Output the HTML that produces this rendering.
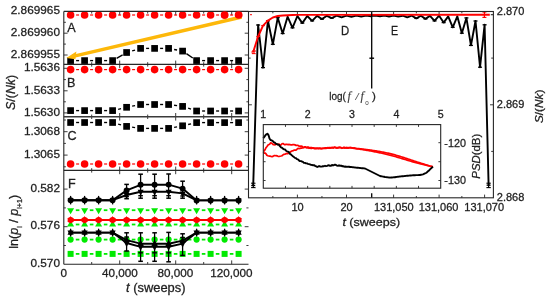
<!DOCTYPE html>
<html><head><meta charset="utf-8"><title>figure</title>
<style>
html,body{margin:0;padding:0;background:#fff;}
body{width:550px;height:298px;overflow:hidden;}
svg{display:block;will-change:transform;filter:blur(0.3px);}
text{stroke:#1e1e1e;stroke-width:0.28px;paint-order:stroke;}
</style></head>
<body>
<svg width="550" height="298" viewBox="0 0 550 298" shape-rendering="auto">
<rect width="550" height="298" fill="#fff"/>
<line x1="91.7" y1="11.4" x2="91.7" y2="13.6" stroke="#262626" stroke-width="0.9" />
<line x1="91.7" y1="64.4" x2="91.7" y2="62.2" stroke="#262626" stroke-width="0.9" />
<line x1="119.7" y1="11.4" x2="119.7" y2="15.2" stroke="#262626" stroke-width="0.9" />
<line x1="119.7" y1="64.4" x2="119.7" y2="60.6" stroke="#262626" stroke-width="0.9" />
<line x1="147.7" y1="11.4" x2="147.7" y2="13.6" stroke="#262626" stroke-width="0.9" />
<line x1="147.7" y1="64.4" x2="147.7" y2="62.2" stroke="#262626" stroke-width="0.9" />
<line x1="175.7" y1="11.4" x2="175.7" y2="15.2" stroke="#262626" stroke-width="0.9" />
<line x1="175.7" y1="64.4" x2="175.7" y2="60.6" stroke="#262626" stroke-width="0.9" />
<line x1="203.7" y1="11.4" x2="203.7" y2="13.6" stroke="#262626" stroke-width="0.9" />
<line x1="203.7" y1="64.4" x2="203.7" y2="62.2" stroke="#262626" stroke-width="0.9" />
<line x1="231.7" y1="11.4" x2="231.7" y2="15.2" stroke="#262626" stroke-width="0.9" />
<line x1="231.7" y1="64.4" x2="231.7" y2="60.6" stroke="#262626" stroke-width="0.9" />
<line x1="63.8" y1="22.3" x2="65.9" y2="22.3" stroke="#262626" stroke-width="0.9" />
<line x1="248.5" y1="22.3" x2="246.4" y2="22.3" stroke="#262626" stroke-width="0.9" />
<line x1="63.8" y1="33.2" x2="67.6" y2="33.2" stroke="#262626" stroke-width="0.9" />
<line x1="248.5" y1="33.2" x2="244.7" y2="33.2" stroke="#262626" stroke-width="0.9" />
<line x1="63.8" y1="44.1" x2="65.9" y2="44.1" stroke="#262626" stroke-width="0.9" />
<line x1="248.5" y1="44.1" x2="246.4" y2="44.1" stroke="#262626" stroke-width="0.9" />
<line x1="63.8" y1="55" x2="67.6" y2="55" stroke="#262626" stroke-width="0.9" />
<line x1="248.5" y1="55" x2="244.7" y2="55" stroke="#262626" stroke-width="0.9" />
<line x1="76.1" y1="15" x2="79.1" y2="15" stroke="#ff0000" stroke-width="1.2" />
<line x1="90.1" y1="15" x2="93.1" y2="15" stroke="#ff0000" stroke-width="1.2" />
<line x1="104.1" y1="15" x2="107.1" y2="15" stroke="#ff0000" stroke-width="1.2" />
<line x1="118.1" y1="15" x2="121.1" y2="15" stroke="#ff0000" stroke-width="1.2" />
<line x1="132.1" y1="15" x2="135.1" y2="15" stroke="#ff0000" stroke-width="1.2" />
<line x1="146.1" y1="15" x2="149.1" y2="15" stroke="#ff0000" stroke-width="1.2" />
<line x1="160.1" y1="15" x2="163.1" y2="15" stroke="#ff0000" stroke-width="1.2" />
<line x1="174.1" y1="15" x2="177.1" y2="15" stroke="#ff0000" stroke-width="1.2" />
<line x1="188.1" y1="15" x2="191.1" y2="15" stroke="#ff0000" stroke-width="1.2" />
<line x1="202.1" y1="15" x2="205.1" y2="15" stroke="#ff0000" stroke-width="1.2" />
<line x1="216.1" y1="15" x2="219.1" y2="15" stroke="#ff0000" stroke-width="1.2" />
<line x1="230.1" y1="15" x2="233.1" y2="15" stroke="#ff0000" stroke-width="1.2" />
<circle cx="70.6" cy="15" r="3.8" fill="#ff0000"/>
<circle cx="84.6" cy="15" r="3.8" fill="#ff0000"/>
<circle cx="98.6" cy="15" r="3.8" fill="#ff0000"/>
<circle cx="112.6" cy="15" r="3.8" fill="#ff0000"/>
<circle cx="126.6" cy="15" r="3.8" fill="#ff0000"/>
<circle cx="140.6" cy="15" r="3.8" fill="#ff0000"/>
<circle cx="154.6" cy="15" r="3.8" fill="#ff0000"/>
<circle cx="168.6" cy="15" r="3.8" fill="#ff0000"/>
<circle cx="182.6" cy="15" r="3.8" fill="#ff0000"/>
<circle cx="196.6" cy="15" r="3.8" fill="#ff0000"/>
<circle cx="210.6" cy="15" r="3.8" fill="#ff0000"/>
<circle cx="224.6" cy="15" r="3.8" fill="#ff0000"/>
<circle cx="238.6" cy="15" r="3.8" fill="#ff0000"/>
<line x1="76.1" y1="60.6" x2="79.1" y2="60.6" stroke="#000" stroke-width="1.35" />
<line x1="90.1" y1="60.6" x2="93.1" y2="60.6" stroke="#000" stroke-width="1.35" />
<line x1="104.1" y1="60.6" x2="107.1" y2="60.6" stroke="#000" stroke-width="1.35" />
<line x1="116.58" y1="58.3" x2="122.62" y2="54.8" stroke="#000" stroke-width="1.35" />
<line x1="132.16" y1="50.87" x2="135.04" y2="50.03" stroke="#000" stroke-width="1.35" />
<line x1="146.1" y1="48.4" x2="149.1" y2="48.4" stroke="#000" stroke-width="1.35" />
<line x1="160.1" y1="48.4" x2="163.1" y2="48.4" stroke="#000" stroke-width="1.35" />
<line x1="174.13" y1="49.47" x2="177.07" y2="50.03" stroke="#000" stroke-width="1.35" />
<line x1="186.41" y1="53.68" x2="192.79" y2="58.02" stroke="#000" stroke-width="1.35" />
<line x1="202.1" y1="60.6" x2="205.1" y2="60.6" stroke="#000" stroke-width="1.35" />
<line x1="216.1" y1="60.6" x2="219.1" y2="60.6" stroke="#000" stroke-width="1.35" />
<line x1="230.1" y1="60.6" x2="233.1" y2="60.6" stroke="#000" stroke-width="1.35" />
<rect x="67.25" y="57.25" width="6.7" height="6.7" fill="#000"/>
<rect x="81.25" y="57.25" width="6.7" height="6.7" fill="#000"/>
<rect x="95.25" y="57.25" width="6.7" height="6.7" fill="#000"/>
<rect x="109.25" y="57.25" width="6.7" height="6.7" fill="#000"/>
<rect x="123.25" y="49.15" width="6.7" height="6.7" fill="#000"/>
<rect x="137.25" y="45.05" width="6.7" height="6.7" fill="#000"/>
<rect x="151.25" y="45.05" width="6.7" height="6.7" fill="#000"/>
<rect x="165.25" y="45.05" width="6.7" height="6.7" fill="#000"/>
<rect x="179.25" y="47.75" width="6.7" height="6.7" fill="#000"/>
<rect x="193.25" y="57.25" width="6.7" height="6.7" fill="#000"/>
<rect x="207.25" y="57.25" width="6.7" height="6.7" fill="#000"/>
<rect x="221.25" y="57.25" width="6.7" height="6.7" fill="#000"/>
<rect x="235.25" y="57.25" width="6.7" height="6.7" fill="#000"/>
<text x="67.3" y="32.2" font-size="12.6" text-anchor="start" fill="#1e1e1e" font-family='"Liberation Sans", sans-serif' >A</text>
<line x1="91.7" y1="64.4" x2="91.7" y2="66.6" stroke="#262626" stroke-width="0.9" />
<line x1="91.7" y1="116.8" x2="91.7" y2="114.6" stroke="#262626" stroke-width="0.9" />
<line x1="119.7" y1="64.4" x2="119.7" y2="68.2" stroke="#262626" stroke-width="0.9" />
<line x1="119.7" y1="116.8" x2="119.7" y2="113" stroke="#262626" stroke-width="0.9" />
<line x1="147.7" y1="64.4" x2="147.7" y2="66.6" stroke="#262626" stroke-width="0.9" />
<line x1="147.7" y1="116.8" x2="147.7" y2="114.6" stroke="#262626" stroke-width="0.9" />
<line x1="175.7" y1="64.4" x2="175.7" y2="68.2" stroke="#262626" stroke-width="0.9" />
<line x1="175.7" y1="116.8" x2="175.7" y2="113" stroke="#262626" stroke-width="0.9" />
<line x1="203.7" y1="64.4" x2="203.7" y2="66.6" stroke="#262626" stroke-width="0.9" />
<line x1="203.7" y1="116.8" x2="203.7" y2="114.6" stroke="#262626" stroke-width="0.9" />
<line x1="231.7" y1="64.4" x2="231.7" y2="68.2" stroke="#262626" stroke-width="0.9" />
<line x1="231.7" y1="116.8" x2="231.7" y2="113" stroke="#262626" stroke-width="0.9" />
<line x1="63.8" y1="68.3" x2="67.6" y2="68.3" stroke="#262626" stroke-width="0.9" />
<line x1="248.5" y1="68.3" x2="244.7" y2="68.3" stroke="#262626" stroke-width="0.9" />
<line x1="63.8" y1="79.6" x2="65.9" y2="79.6" stroke="#262626" stroke-width="0.9" />
<line x1="248.5" y1="79.6" x2="246.4" y2="79.6" stroke="#262626" stroke-width="0.9" />
<line x1="63.8" y1="90.8" x2="67.6" y2="90.8" stroke="#262626" stroke-width="0.9" />
<line x1="248.5" y1="90.8" x2="244.7" y2="90.8" stroke="#262626" stroke-width="0.9" />
<line x1="63.8" y1="101.8" x2="65.9" y2="101.8" stroke="#262626" stroke-width="0.9" />
<line x1="248.5" y1="101.8" x2="246.4" y2="101.8" stroke="#262626" stroke-width="0.9" />
<line x1="63.8" y1="112.9" x2="67.6" y2="112.9" stroke="#262626" stroke-width="0.9" />
<line x1="248.5" y1="112.9" x2="244.7" y2="112.9" stroke="#262626" stroke-width="0.9" />
<line x1="76.1" y1="69.6" x2="79.1" y2="69.6" stroke="#ff0000" stroke-width="1.2" />
<line x1="90.1" y1="69.6" x2="93.1" y2="69.6" stroke="#ff0000" stroke-width="1.2" />
<line x1="104.1" y1="69.6" x2="107.1" y2="69.6" stroke="#ff0000" stroke-width="1.2" />
<line x1="118.1" y1="69.6" x2="121.1" y2="69.6" stroke="#ff0000" stroke-width="1.2" />
<line x1="132.1" y1="69.6" x2="135.1" y2="69.6" stroke="#ff0000" stroke-width="1.2" />
<line x1="146.1" y1="69.6" x2="149.1" y2="69.6" stroke="#ff0000" stroke-width="1.2" />
<line x1="160.1" y1="69.6" x2="163.1" y2="69.6" stroke="#ff0000" stroke-width="1.2" />
<line x1="174.1" y1="69.6" x2="177.1" y2="69.6" stroke="#ff0000" stroke-width="1.2" />
<line x1="188.1" y1="69.6" x2="191.1" y2="69.6" stroke="#ff0000" stroke-width="1.2" />
<line x1="202.1" y1="69.6" x2="205.1" y2="69.6" stroke="#ff0000" stroke-width="1.2" />
<line x1="216.1" y1="69.6" x2="219.1" y2="69.6" stroke="#ff0000" stroke-width="1.2" />
<line x1="230.1" y1="69.6" x2="233.1" y2="69.6" stroke="#ff0000" stroke-width="1.2" />
<circle cx="70.6" cy="69.6" r="3.8" fill="#ff0000"/>
<circle cx="84.6" cy="69.6" r="3.8" fill="#ff0000"/>
<circle cx="98.6" cy="69.6" r="3.8" fill="#ff0000"/>
<circle cx="112.6" cy="69.6" r="3.8" fill="#ff0000"/>
<circle cx="126.6" cy="69.6" r="3.8" fill="#ff0000"/>
<circle cx="140.6" cy="69.6" r="3.8" fill="#ff0000"/>
<circle cx="154.6" cy="69.6" r="3.8" fill="#ff0000"/>
<circle cx="168.6" cy="69.6" r="3.8" fill="#ff0000"/>
<circle cx="182.6" cy="69.6" r="3.8" fill="#ff0000"/>
<circle cx="196.6" cy="69.6" r="3.8" fill="#ff0000"/>
<circle cx="210.6" cy="69.6" r="3.8" fill="#ff0000"/>
<circle cx="224.6" cy="69.6" r="3.8" fill="#ff0000"/>
<circle cx="238.6" cy="69.6" r="3.8" fill="#ff0000"/>
<line x1="76.1" y1="110.6" x2="79.1" y2="110.6" stroke="#000" stroke-width="1.35" />
<line x1="90.1" y1="110.6" x2="93.1" y2="110.6" stroke="#000" stroke-width="1.35" />
<line x1="104.1" y1="110.6" x2="107.1" y2="110.6" stroke="#000" stroke-width="1.35" />
<line x1="118.14" y1="109.29" x2="121.06" y2="108.61" stroke="#000" stroke-width="1.35" />
<line x1="132.13" y1="106.19" x2="135.07" y2="105.61" stroke="#000" stroke-width="1.35" />
<line x1="146.1" y1="104.5" x2="149.1" y2="104.5" stroke="#000" stroke-width="1.35" />
<line x1="160.1" y1="104.5" x2="163.1" y2="104.5" stroke="#000" stroke-width="1.35" />
<line x1="174.11" y1="105.25" x2="177.09" y2="105.65" stroke="#000" stroke-width="1.35" />
<line x1="188.17" y1="108.23" x2="191.03" y2="109.17" stroke="#000" stroke-width="1.35" />
<line x1="202.1" y1="111" x2="205.1" y2="111" stroke="#000" stroke-width="1.35" />
<line x1="216.1" y1="111" x2="219.1" y2="111" stroke="#000" stroke-width="1.35" />
<line x1="230.1" y1="111" x2="233.1" y2="111" stroke="#000" stroke-width="1.35" />
<rect x="67.25" y="107.25" width="6.7" height="6.7" fill="#000"/>
<rect x="81.25" y="107.25" width="6.7" height="6.7" fill="#000"/>
<rect x="95.25" y="107.25" width="6.7" height="6.7" fill="#000"/>
<rect x="109.25" y="107.25" width="6.7" height="6.7" fill="#000"/>
<rect x="123.25" y="103.95" width="6.7" height="6.7" fill="#000"/>
<rect x="137.25" y="101.15" width="6.7" height="6.7" fill="#000"/>
<rect x="151.25" y="101.15" width="6.7" height="6.7" fill="#000"/>
<rect x="165.25" y="101.15" width="6.7" height="6.7" fill="#000"/>
<rect x="179.25" y="103.05" width="6.7" height="6.7" fill="#000"/>
<rect x="193.25" y="107.65" width="6.7" height="6.7" fill="#000"/>
<rect x="207.25" y="107.65" width="6.7" height="6.7" fill="#000"/>
<rect x="221.25" y="107.65" width="6.7" height="6.7" fill="#000"/>
<rect x="235.25" y="107.65" width="6.7" height="6.7" fill="#000"/>
<text x="67" y="86.6" font-size="12.6" text-anchor="start" fill="#1e1e1e" font-family='"Liberation Sans", sans-serif' >B</text>
<line x1="91.7" y1="116.8" x2="91.7" y2="119" stroke="#262626" stroke-width="0.9" />
<line x1="91.7" y1="170.4" x2="91.7" y2="168.2" stroke="#262626" stroke-width="0.9" />
<line x1="119.7" y1="116.8" x2="119.7" y2="120.6" stroke="#262626" stroke-width="0.9" />
<line x1="119.7" y1="170.4" x2="119.7" y2="166.6" stroke="#262626" stroke-width="0.9" />
<line x1="147.7" y1="116.8" x2="147.7" y2="119" stroke="#262626" stroke-width="0.9" />
<line x1="147.7" y1="170.4" x2="147.7" y2="168.2" stroke="#262626" stroke-width="0.9" />
<line x1="175.7" y1="116.8" x2="175.7" y2="120.6" stroke="#262626" stroke-width="0.9" />
<line x1="175.7" y1="170.4" x2="175.7" y2="166.6" stroke="#262626" stroke-width="0.9" />
<line x1="203.7" y1="116.8" x2="203.7" y2="119" stroke="#262626" stroke-width="0.9" />
<line x1="203.7" y1="170.4" x2="203.7" y2="168.2" stroke="#262626" stroke-width="0.9" />
<line x1="231.7" y1="116.8" x2="231.7" y2="120.6" stroke="#262626" stroke-width="0.9" />
<line x1="231.7" y1="170.4" x2="231.7" y2="166.6" stroke="#262626" stroke-width="0.9" />
<line x1="63.8" y1="120" x2="65.9" y2="120" stroke="#262626" stroke-width="0.9" />
<line x1="248.5" y1="120" x2="246.4" y2="120" stroke="#262626" stroke-width="0.9" />
<line x1="63.8" y1="131.7" x2="67.6" y2="131.7" stroke="#262626" stroke-width="0.9" />
<line x1="248.5" y1="131.7" x2="244.7" y2="131.7" stroke="#262626" stroke-width="0.9" />
<line x1="63.8" y1="143.4" x2="65.9" y2="143.4" stroke="#262626" stroke-width="0.9" />
<line x1="248.5" y1="143.4" x2="246.4" y2="143.4" stroke="#262626" stroke-width="0.9" />
<line x1="63.8" y1="155.1" x2="67.6" y2="155.1" stroke="#262626" stroke-width="0.9" />
<line x1="248.5" y1="155.1" x2="244.7" y2="155.1" stroke="#262626" stroke-width="0.9" />
<line x1="63.8" y1="166.8" x2="65.9" y2="166.8" stroke="#262626" stroke-width="0.9" />
<line x1="248.5" y1="166.8" x2="246.4" y2="166.8" stroke="#262626" stroke-width="0.9" />
<line x1="76.1" y1="122.5" x2="79.1" y2="122.5" stroke="#000" stroke-width="1.35" />
<line x1="90.1" y1="122.5" x2="93.1" y2="122.5" stroke="#000" stroke-width="1.35" />
<line x1="104.1" y1="122.5" x2="107.1" y2="122.5" stroke="#000" stroke-width="1.35" />
<line x1="118.16" y1="124.05" x2="121.04" y2="124.85" stroke="#000" stroke-width="1.35" />
<line x1="132.12" y1="127.19" x2="135.08" y2="127.61" stroke="#000" stroke-width="1.35" />
<line x1="146.1" y1="128.4" x2="149.1" y2="128.4" stroke="#000" stroke-width="1.35" />
<line x1="160.1" y1="128.4" x2="163.1" y2="128.4" stroke="#000" stroke-width="1.35" />
<line x1="174.13" y1="127.37" x2="177.07" y2="126.83" stroke="#000" stroke-width="1.35" />
<line x1="188.14" y1="124.53" x2="191.06" y2="123.87" stroke="#000" stroke-width="1.35" />
<line x1="202.1" y1="122.6" x2="205.1" y2="122.6" stroke="#000" stroke-width="1.35" />
<line x1="216.1" y1="122.6" x2="219.1" y2="122.6" stroke="#000" stroke-width="1.35" />
<line x1="230.1" y1="122.6" x2="233.1" y2="122.6" stroke="#000" stroke-width="1.35" />
<rect x="67.25" y="119.15" width="6.7" height="6.7" fill="#000"/>
<rect x="81.25" y="119.15" width="6.7" height="6.7" fill="#000"/>
<rect x="95.25" y="119.15" width="6.7" height="6.7" fill="#000"/>
<rect x="109.25" y="119.15" width="6.7" height="6.7" fill="#000"/>
<rect x="123.25" y="123.05" width="6.7" height="6.7" fill="#000"/>
<rect x="137.25" y="125.05" width="6.7" height="6.7" fill="#000"/>
<rect x="151.25" y="125.05" width="6.7" height="6.7" fill="#000"/>
<rect x="165.25" y="125.05" width="6.7" height="6.7" fill="#000"/>
<rect x="179.25" y="122.45" width="6.7" height="6.7" fill="#000"/>
<rect x="193.25" y="119.25" width="6.7" height="6.7" fill="#000"/>
<rect x="207.25" y="119.25" width="6.7" height="6.7" fill="#000"/>
<rect x="221.25" y="119.25" width="6.7" height="6.7" fill="#000"/>
<rect x="235.25" y="119.25" width="6.7" height="6.7" fill="#000"/>
<line x1="76.1" y1="164" x2="79.1" y2="164" stroke="#ff0000" stroke-width="1.2" />
<line x1="90.1" y1="164" x2="93.1" y2="164" stroke="#ff0000" stroke-width="1.2" />
<line x1="104.1" y1="164" x2="107.1" y2="164" stroke="#ff0000" stroke-width="1.2" />
<line x1="118.1" y1="164" x2="121.1" y2="164" stroke="#ff0000" stroke-width="1.2" />
<line x1="132.1" y1="164" x2="135.1" y2="164" stroke="#ff0000" stroke-width="1.2" />
<line x1="146.1" y1="164" x2="149.1" y2="164" stroke="#ff0000" stroke-width="1.2" />
<line x1="160.1" y1="164" x2="163.1" y2="164" stroke="#ff0000" stroke-width="1.2" />
<line x1="174.1" y1="164" x2="177.1" y2="164" stroke="#ff0000" stroke-width="1.2" />
<line x1="188.1" y1="164" x2="191.1" y2="164" stroke="#ff0000" stroke-width="1.2" />
<line x1="202.1" y1="164" x2="205.1" y2="164" stroke="#ff0000" stroke-width="1.2" />
<line x1="216.1" y1="164" x2="219.1" y2="164" stroke="#ff0000" stroke-width="1.2" />
<line x1="230.1" y1="164" x2="233.1" y2="164" stroke="#ff0000" stroke-width="1.2" />
<circle cx="70.6" cy="164" r="3.8" fill="#ff0000"/>
<circle cx="84.6" cy="164" r="3.8" fill="#ff0000"/>
<circle cx="98.6" cy="164" r="3.8" fill="#ff0000"/>
<circle cx="112.6" cy="164" r="3.8" fill="#ff0000"/>
<circle cx="126.6" cy="164" r="3.8" fill="#ff0000"/>
<circle cx="140.6" cy="164" r="3.8" fill="#ff0000"/>
<circle cx="154.6" cy="164" r="3.8" fill="#ff0000"/>
<circle cx="168.6" cy="164" r="3.8" fill="#ff0000"/>
<circle cx="182.6" cy="164" r="3.8" fill="#ff0000"/>
<circle cx="196.6" cy="164" r="3.8" fill="#ff0000"/>
<circle cx="210.6" cy="164" r="3.8" fill="#ff0000"/>
<circle cx="224.6" cy="164" r="3.8" fill="#ff0000"/>
<circle cx="238.6" cy="164" r="3.8" fill="#ff0000"/>
<text x="67.6" y="139.6" font-size="12.6" text-anchor="start" fill="#1e1e1e" font-family='"Liberation Sans", sans-serif' >C</text>
<line x1="91.7" y1="170.4" x2="91.7" y2="172.6" stroke="#262626" stroke-width="0.9" />
<line x1="91.7" y1="264.2" x2="91.7" y2="262" stroke="#262626" stroke-width="0.9" />
<line x1="119.7" y1="170.4" x2="119.7" y2="174.2" stroke="#262626" stroke-width="0.9" />
<line x1="119.7" y1="264.2" x2="119.7" y2="260.4" stroke="#262626" stroke-width="0.9" />
<line x1="147.7" y1="170.4" x2="147.7" y2="172.6" stroke="#262626" stroke-width="0.9" />
<line x1="147.7" y1="264.2" x2="147.7" y2="262" stroke="#262626" stroke-width="0.9" />
<line x1="175.7" y1="170.4" x2="175.7" y2="174.2" stroke="#262626" stroke-width="0.9" />
<line x1="175.7" y1="264.2" x2="175.7" y2="260.4" stroke="#262626" stroke-width="0.9" />
<line x1="203.7" y1="170.4" x2="203.7" y2="172.6" stroke="#262626" stroke-width="0.9" />
<line x1="203.7" y1="264.2" x2="203.7" y2="262" stroke="#262626" stroke-width="0.9" />
<line x1="231.7" y1="170.4" x2="231.7" y2="174.2" stroke="#262626" stroke-width="0.9" />
<line x1="231.7" y1="264.2" x2="231.7" y2="260.4" stroke="#262626" stroke-width="0.9" />
<line x1="63.8" y1="189.1" x2="67.6" y2="189.1" stroke="#262626" stroke-width="0.9" />
<line x1="248.5" y1="189.1" x2="244.7" y2="189.1" stroke="#262626" stroke-width="0.9" />
<line x1="63.8" y1="207.9" x2="65.9" y2="207.9" stroke="#262626" stroke-width="0.9" />
<line x1="248.5" y1="207.9" x2="246.4" y2="207.9" stroke="#262626" stroke-width="0.9" />
<line x1="63.8" y1="226.7" x2="67.6" y2="226.7" stroke="#262626" stroke-width="0.9" />
<line x1="248.5" y1="226.7" x2="244.7" y2="226.7" stroke="#262626" stroke-width="0.9" />
<line x1="63.8" y1="245.5" x2="65.9" y2="245.5" stroke="#262626" stroke-width="0.9" />
<line x1="248.5" y1="245.5" x2="246.4" y2="245.5" stroke="#262626" stroke-width="0.9" />
<line x1="75.8" y1="210.2" x2="79.4" y2="210.2" stroke="#00ea00" stroke-width="1.8" />
<line x1="89.8" y1="210.2" x2="93.4" y2="210.2" stroke="#00ea00" stroke-width="1.8" />
<line x1="103.8" y1="210.2" x2="107.4" y2="210.2" stroke="#00ea00" stroke-width="1.8" />
<line x1="117.8" y1="210.2" x2="121.4" y2="210.2" stroke="#00ea00" stroke-width="1.8" />
<line x1="131.8" y1="210.2" x2="135.4" y2="210.2" stroke="#00ea00" stroke-width="1.8" />
<line x1="145.8" y1="210.2" x2="149.4" y2="210.2" stroke="#00ea00" stroke-width="1.8" />
<line x1="159.8" y1="210.2" x2="163.4" y2="210.2" stroke="#00ea00" stroke-width="1.8" />
<line x1="173.8" y1="210.2" x2="177.4" y2="210.2" stroke="#00ea00" stroke-width="1.8" />
<line x1="187.8" y1="210.2" x2="191.4" y2="210.2" stroke="#00ea00" stroke-width="1.8" />
<line x1="201.8" y1="210.2" x2="205.4" y2="210.2" stroke="#00ea00" stroke-width="1.8" />
<line x1="215.8" y1="210.2" x2="219.4" y2="210.2" stroke="#00ea00" stroke-width="1.8" />
<line x1="229.8" y1="210.2" x2="233.4" y2="210.2" stroke="#00ea00" stroke-width="1.8" />
<polygon points="67.1,208.23 74.1,208.23 70.6,214.13" fill="#00ea00"/>
<polygon points="81.1,208.23 88.1,208.23 84.6,214.13" fill="#00ea00"/>
<polygon points="95.1,208.23 102.1,208.23 98.6,214.13" fill="#00ea00"/>
<polygon points="109.1,208.23 116.1,208.23 112.6,214.13" fill="#00ea00"/>
<polygon points="123.1,208.23 130.1,208.23 126.6,214.13" fill="#00ea00"/>
<polygon points="137.1,208.23 144.1,208.23 140.6,214.13" fill="#00ea00"/>
<polygon points="151.1,208.23 158.1,208.23 154.6,214.13" fill="#00ea00"/>
<polygon points="165.1,208.23 172.1,208.23 168.6,214.13" fill="#00ea00"/>
<polygon points="179.1,208.23 186.1,208.23 182.6,214.13" fill="#00ea00"/>
<polygon points="193.1,208.23 200.1,208.23 196.6,214.13" fill="#00ea00"/>
<polygon points="207.1,208.23 214.1,208.23 210.6,214.13" fill="#00ea00"/>
<polygon points="221.1,208.23 228.1,208.23 224.6,214.13" fill="#00ea00"/>
<polygon points="235.1,208.23 242.1,208.23 238.6,214.13" fill="#00ea00"/>
<line x1="75.8" y1="224.5" x2="79.4" y2="224.5" stroke="#00ea00" stroke-width="1.8" />
<line x1="89.8" y1="224.5" x2="93.4" y2="224.5" stroke="#00ea00" stroke-width="1.8" />
<line x1="103.8" y1="224.5" x2="107.4" y2="224.5" stroke="#00ea00" stroke-width="1.8" />
<line x1="117.8" y1="224.5" x2="121.4" y2="224.5" stroke="#00ea00" stroke-width="1.8" />
<line x1="131.8" y1="224.5" x2="135.4" y2="224.5" stroke="#00ea00" stroke-width="1.8" />
<line x1="145.8" y1="224.5" x2="149.4" y2="224.5" stroke="#00ea00" stroke-width="1.8" />
<line x1="159.8" y1="224.5" x2="163.4" y2="224.5" stroke="#00ea00" stroke-width="1.8" />
<line x1="173.8" y1="224.5" x2="177.4" y2="224.5" stroke="#00ea00" stroke-width="1.8" />
<line x1="187.8" y1="224.5" x2="191.4" y2="224.5" stroke="#00ea00" stroke-width="1.8" />
<line x1="201.8" y1="224.5" x2="205.4" y2="224.5" stroke="#00ea00" stroke-width="1.8" />
<line x1="215.8" y1="224.5" x2="219.4" y2="224.5" stroke="#00ea00" stroke-width="1.8" />
<line x1="229.8" y1="224.5" x2="233.4" y2="224.5" stroke="#00ea00" stroke-width="1.8" />
<polygon points="67.1,226.47 74.1,226.47 70.6,220.57" fill="#00ea00"/>
<polygon points="81.1,226.47 88.1,226.47 84.6,220.57" fill="#00ea00"/>
<polygon points="95.1,226.47 102.1,226.47 98.6,220.57" fill="#00ea00"/>
<polygon points="109.1,226.47 116.1,226.47 112.6,220.57" fill="#00ea00"/>
<polygon points="123.1,226.47 130.1,226.47 126.6,220.57" fill="#00ea00"/>
<polygon points="137.1,226.47 144.1,226.47 140.6,220.57" fill="#00ea00"/>
<polygon points="151.1,226.47 158.1,226.47 154.6,220.57" fill="#00ea00"/>
<polygon points="165.1,226.47 172.1,226.47 168.6,220.57" fill="#00ea00"/>
<polygon points="179.1,226.47 186.1,226.47 182.6,220.57" fill="#00ea00"/>
<polygon points="193.1,226.47 200.1,226.47 196.6,220.57" fill="#00ea00"/>
<polygon points="207.1,226.47 214.1,226.47 210.6,220.57" fill="#00ea00"/>
<polygon points="221.1,226.47 228.1,226.47 224.6,220.57" fill="#00ea00"/>
<polygon points="235.1,226.47 242.1,226.47 238.6,220.57" fill="#00ea00"/>
<line x1="75.8" y1="239.6" x2="79.4" y2="239.6" stroke="#00ea00" stroke-width="1.8" />
<line x1="89.8" y1="239.6" x2="93.4" y2="239.6" stroke="#00ea00" stroke-width="1.8" />
<line x1="103.8" y1="239.6" x2="107.4" y2="239.6" stroke="#00ea00" stroke-width="1.8" />
<line x1="117.8" y1="239.6" x2="121.4" y2="239.6" stroke="#00ea00" stroke-width="1.8" />
<line x1="131.8" y1="239.6" x2="135.4" y2="239.6" stroke="#00ea00" stroke-width="1.8" />
<line x1="145.8" y1="239.6" x2="149.4" y2="239.6" stroke="#00ea00" stroke-width="1.8" />
<line x1="159.8" y1="239.6" x2="163.4" y2="239.6" stroke="#00ea00" stroke-width="1.8" />
<line x1="173.8" y1="239.6" x2="177.4" y2="239.6" stroke="#00ea00" stroke-width="1.8" />
<line x1="187.8" y1="239.6" x2="191.4" y2="239.6" stroke="#00ea00" stroke-width="1.8" />
<line x1="201.8" y1="239.6" x2="205.4" y2="239.6" stroke="#00ea00" stroke-width="1.8" />
<line x1="215.8" y1="239.6" x2="219.4" y2="239.6" stroke="#00ea00" stroke-width="1.8" />
<line x1="229.8" y1="239.6" x2="233.4" y2="239.6" stroke="#00ea00" stroke-width="1.8" />
<circle cx="70.6" cy="239.6" r="3.1" fill="#00ea00"/>
<circle cx="84.6" cy="239.6" r="3.1" fill="#00ea00"/>
<circle cx="98.6" cy="239.6" r="3.1" fill="#00ea00"/>
<circle cx="112.6" cy="239.6" r="3.1" fill="#00ea00"/>
<circle cx="126.6" cy="239.6" r="3.1" fill="#00ea00"/>
<circle cx="140.6" cy="239.6" r="3.1" fill="#00ea00"/>
<circle cx="154.6" cy="239.6" r="3.1" fill="#00ea00"/>
<circle cx="168.6" cy="239.6" r="3.1" fill="#00ea00"/>
<circle cx="182.6" cy="239.6" r="3.1" fill="#00ea00"/>
<circle cx="196.6" cy="239.6" r="3.1" fill="#00ea00"/>
<circle cx="210.6" cy="239.6" r="3.1" fill="#00ea00"/>
<circle cx="224.6" cy="239.6" r="3.1" fill="#00ea00"/>
<circle cx="238.6" cy="239.6" r="3.1" fill="#00ea00"/>
<line x1="75.8" y1="253.9" x2="79.4" y2="253.9" stroke="#00ea00" stroke-width="1.8" />
<line x1="89.8" y1="253.9" x2="93.4" y2="253.9" stroke="#00ea00" stroke-width="1.8" />
<line x1="103.8" y1="253.9" x2="107.4" y2="253.9" stroke="#00ea00" stroke-width="1.8" />
<line x1="117.8" y1="253.9" x2="121.4" y2="253.9" stroke="#00ea00" stroke-width="1.8" />
<line x1="131.8" y1="253.9" x2="135.4" y2="253.9" stroke="#00ea00" stroke-width="1.8" />
<line x1="145.8" y1="253.9" x2="149.4" y2="253.9" stroke="#00ea00" stroke-width="1.8" />
<line x1="159.8" y1="253.9" x2="163.4" y2="253.9" stroke="#00ea00" stroke-width="1.8" />
<line x1="173.8" y1="253.9" x2="177.4" y2="253.9" stroke="#00ea00" stroke-width="1.8" />
<line x1="187.8" y1="253.9" x2="191.4" y2="253.9" stroke="#00ea00" stroke-width="1.8" />
<line x1="201.8" y1="253.9" x2="205.4" y2="253.9" stroke="#00ea00" stroke-width="1.8" />
<line x1="215.8" y1="253.9" x2="219.4" y2="253.9" stroke="#00ea00" stroke-width="1.8" />
<line x1="229.8" y1="253.9" x2="233.4" y2="253.9" stroke="#00ea00" stroke-width="1.8" />
<rect x="67.6" y="250.9" width="6" height="6" fill="#00ea00"/>
<rect x="81.6" y="250.9" width="6" height="6" fill="#00ea00"/>
<rect x="95.6" y="250.9" width="6" height="6" fill="#00ea00"/>
<rect x="109.6" y="250.9" width="6" height="6" fill="#00ea00"/>
<rect x="123.6" y="250.9" width="6" height="6" fill="#00ea00"/>
<rect x="137.6" y="250.9" width="6" height="6" fill="#00ea00"/>
<rect x="151.6" y="250.9" width="6" height="6" fill="#00ea00"/>
<rect x="165.6" y="250.9" width="6" height="6" fill="#00ea00"/>
<rect x="179.6" y="250.9" width="6" height="6" fill="#00ea00"/>
<rect x="193.6" y="250.9" width="6" height="6" fill="#00ea00"/>
<rect x="207.6" y="250.9" width="6" height="6" fill="#00ea00"/>
<rect x="221.6" y="250.9" width="6" height="6" fill="#00ea00"/>
<rect x="235.6" y="250.9" width="6" height="6" fill="#00ea00"/>
<polyline points="70.6,219.9 84.6,219.9 98.6,219.9 112.6,219.9 126.6,219.9 140.6,219.9 154.6,219.9 168.6,219.9 182.6,219.9 196.6,219.9 210.6,219.9 224.6,219.9 238.6,219.9" fill="none" stroke="#ff0000" stroke-width="2.0" stroke-linejoin="round" />
<circle cx="70.6" cy="219.9" r="3.0" fill="#ff0000"/>
<polygon points="67.4,221.8 73.8,221.8 70.6,216.1" fill="#ff0000"/>
<polygon points="67.4,218 73.8,218 70.6,223.7" fill="#ff0000"/>
<circle cx="84.6" cy="219.9" r="3.0" fill="#ff0000"/>
<polygon points="81.4,221.8 87.8,221.8 84.6,216.1" fill="#ff0000"/>
<polygon points="81.4,218 87.8,218 84.6,223.7" fill="#ff0000"/>
<circle cx="98.6" cy="219.9" r="3.0" fill="#ff0000"/>
<polygon points="95.4,221.8 101.8,221.8 98.6,216.1" fill="#ff0000"/>
<polygon points="95.4,218 101.8,218 98.6,223.7" fill="#ff0000"/>
<circle cx="112.6" cy="219.9" r="3.0" fill="#ff0000"/>
<polygon points="109.4,221.8 115.8,221.8 112.6,216.1" fill="#ff0000"/>
<polygon points="109.4,218 115.8,218 112.6,223.7" fill="#ff0000"/>
<circle cx="126.6" cy="219.9" r="3.0" fill="#ff0000"/>
<polygon points="123.4,221.8 129.8,221.8 126.6,216.1" fill="#ff0000"/>
<polygon points="123.4,218 129.8,218 126.6,223.7" fill="#ff0000"/>
<circle cx="140.6" cy="219.9" r="3.0" fill="#ff0000"/>
<polygon points="137.4,221.8 143.8,221.8 140.6,216.1" fill="#ff0000"/>
<polygon points="137.4,218 143.8,218 140.6,223.7" fill="#ff0000"/>
<circle cx="154.6" cy="219.9" r="3.0" fill="#ff0000"/>
<polygon points="151.4,221.8 157.8,221.8 154.6,216.1" fill="#ff0000"/>
<polygon points="151.4,218 157.8,218 154.6,223.7" fill="#ff0000"/>
<circle cx="168.6" cy="219.9" r="3.0" fill="#ff0000"/>
<polygon points="165.4,221.8 171.8,221.8 168.6,216.1" fill="#ff0000"/>
<polygon points="165.4,218 171.8,218 168.6,223.7" fill="#ff0000"/>
<circle cx="182.6" cy="219.9" r="3.0" fill="#ff0000"/>
<polygon points="179.4,221.8 185.8,221.8 182.6,216.1" fill="#ff0000"/>
<polygon points="179.4,218 185.8,218 182.6,223.7" fill="#ff0000"/>
<circle cx="196.6" cy="219.9" r="3.0" fill="#ff0000"/>
<polygon points="193.4,221.8 199.8,221.8 196.6,216.1" fill="#ff0000"/>
<polygon points="193.4,218 199.8,218 196.6,223.7" fill="#ff0000"/>
<circle cx="210.6" cy="219.9" r="3.0" fill="#ff0000"/>
<polygon points="207.4,221.8 213.8,221.8 210.6,216.1" fill="#ff0000"/>
<polygon points="207.4,218 213.8,218 210.6,223.7" fill="#ff0000"/>
<circle cx="224.6" cy="219.9" r="3.0" fill="#ff0000"/>
<polygon points="221.4,221.8 227.8,221.8 224.6,216.1" fill="#ff0000"/>
<polygon points="221.4,218 227.8,218 224.6,223.7" fill="#ff0000"/>
<circle cx="238.6" cy="219.9" r="3.0" fill="#ff0000"/>
<polygon points="235.4,221.8 241.8,221.8 238.6,216.1" fill="#ff0000"/>
<polygon points="235.4,218 241.8,218 238.6,223.7" fill="#ff0000"/>
<polyline points="70.6,200.2 84.6,200.2 98.6,200.2 112.6,200.2 126.6,190.4 140.6,184.8 154.6,184.8 168.6,184.6 182.6,188.6 196.6,200.4 210.6,200.4 224.6,200.4 238.6,200.4" fill="none" stroke="#000" stroke-width="1.9" stroke-linejoin="round" />
<polyline points="70.6,200.2 84.6,200.2 98.6,200.2 112.6,200.2 126.6,195 140.6,191.8 154.6,191.8 168.6,191.8 182.6,193.4 196.6,200.4 210.6,200.4 224.6,200.4 238.6,200.4" fill="none" stroke="#000" stroke-width="1.9" stroke-linejoin="round" />
<line x1="70.6" y1="195.9" x2="70.6" y2="204.4" stroke="#000" stroke-width="1.3" />
<circle cx="70.6" cy="200.2" r="2.95" fill="#000"/>
<polygon points="67.6,198.2 73.6,198.2 70.6,204.2" fill="#000"/>
<line x1="84.6" y1="195.9" x2="84.6" y2="204.4" stroke="#000" stroke-width="1.3" />
<circle cx="84.6" cy="200.2" r="2.95" fill="#000"/>
<polygon points="81.6,198.2 87.6,198.2 84.6,204.2" fill="#000"/>
<line x1="98.6" y1="195.9" x2="98.6" y2="204.4" stroke="#000" stroke-width="1.3" />
<circle cx="98.6" cy="200.2" r="2.95" fill="#000"/>
<polygon points="95.6,198.2 101.6,198.2 98.6,204.2" fill="#000"/>
<line x1="112.6" y1="195.9" x2="112.6" y2="204.4" stroke="#000" stroke-width="1.3" />
<circle cx="112.6" cy="200.2" r="2.95" fill="#000"/>
<polygon points="109.6,198.2 115.6,198.2 112.6,204.2" fill="#000"/>
<line x1="126.6" y1="184.4" x2="126.6" y2="198.7" stroke="#000" stroke-width="1.3" />
<line x1="124.3" y1="184.4" x2="128.9" y2="184.4" stroke="#000" stroke-width="1.5" />
<line x1="124.3" y1="198.7" x2="128.9" y2="198.7" stroke="#000" stroke-width="1.5" />
<line x1="124.3" y1="196.6" x2="128.9" y2="196.6" stroke="#000" stroke-width="1.4" />
<circle cx="126.6" cy="190.4" r="2.95" fill="#000"/>
<polygon points="123.6,193 129.6,193 126.6,199" fill="#000"/>
<line x1="140.6" y1="174.2" x2="140.6" y2="198.2" stroke="#000" stroke-width="1.3" />
<line x1="138.3" y1="174.2" x2="142.9" y2="174.2" stroke="#000" stroke-width="1.5" />
<line x1="138.3" y1="198.2" x2="142.9" y2="198.2" stroke="#000" stroke-width="1.5" />
<line x1="138.3" y1="195.7" x2="142.9" y2="195.7" stroke="#000" stroke-width="1.4" />
<circle cx="140.6" cy="184.8" r="2.95" fill="#000"/>
<polygon points="137.6,189.8 143.6,189.8 140.6,195.8" fill="#000"/>
<line x1="154.6" y1="174.2" x2="154.6" y2="198.2" stroke="#000" stroke-width="1.3" />
<line x1="152.3" y1="174.2" x2="156.9" y2="174.2" stroke="#000" stroke-width="1.5" />
<line x1="152.3" y1="198.2" x2="156.9" y2="198.2" stroke="#000" stroke-width="1.5" />
<line x1="152.3" y1="195.7" x2="156.9" y2="195.7" stroke="#000" stroke-width="1.4" />
<circle cx="154.6" cy="184.8" r="2.95" fill="#000"/>
<polygon points="151.6,189.8 157.6,189.8 154.6,195.8" fill="#000"/>
<line x1="168.6" y1="174" x2="168.6" y2="198.2" stroke="#000" stroke-width="1.3" />
<line x1="166.3" y1="174" x2="170.9" y2="174" stroke="#000" stroke-width="1.5" />
<line x1="166.3" y1="198.2" x2="170.9" y2="198.2" stroke="#000" stroke-width="1.5" />
<line x1="166.3" y1="195.7" x2="170.9" y2="195.7" stroke="#000" stroke-width="1.4" />
<circle cx="168.6" cy="184.6" r="2.95" fill="#000"/>
<polygon points="165.6,189.8 171.6,189.8 168.6,195.8" fill="#000"/>
<line x1="182.6" y1="181.2" x2="182.6" y2="198.2" stroke="#000" stroke-width="1.3" />
<line x1="180.3" y1="181.2" x2="184.9" y2="181.2" stroke="#000" stroke-width="1.5" />
<line x1="180.3" y1="198.2" x2="184.9" y2="198.2" stroke="#000" stroke-width="1.5" />
<line x1="180.3" y1="196" x2="184.9" y2="196" stroke="#000" stroke-width="1.4" />
<circle cx="182.6" cy="188.6" r="2.95" fill="#000"/>
<polygon points="179.6,191.4 185.6,191.4 182.6,197.4" fill="#000"/>
<line x1="196.6" y1="195.9" x2="196.6" y2="204.4" stroke="#000" stroke-width="1.3" />
<circle cx="196.6" cy="200.4" r="2.95" fill="#000"/>
<polygon points="193.6,198.4 199.6,198.4 196.6,204.4" fill="#000"/>
<line x1="210.6" y1="195.9" x2="210.6" y2="204.4" stroke="#000" stroke-width="1.3" />
<circle cx="210.6" cy="200.4" r="2.95" fill="#000"/>
<polygon points="207.6,198.4 213.6,198.4 210.6,204.4" fill="#000"/>
<line x1="224.6" y1="195.9" x2="224.6" y2="204.4" stroke="#000" stroke-width="1.3" />
<circle cx="224.6" cy="200.4" r="2.95" fill="#000"/>
<polygon points="221.6,198.4 227.6,198.4 224.6,204.4" fill="#000"/>
<line x1="238.6" y1="195.9" x2="238.6" y2="204.4" stroke="#000" stroke-width="1.3" />
<circle cx="238.6" cy="200.4" r="2.95" fill="#000"/>
<polygon points="235.6,198.4 241.6,198.4 238.6,204.4" fill="#000"/>
<polyline points="70.6,232.6 84.6,232.6 98.6,232.6 112.6,232.6 126.6,240.1 140.6,243.7 154.6,243.7 168.6,243.7 182.6,240.6 196.6,232.6 210.6,232.6 224.6,232.6 238.6,232.6" fill="none" stroke="#000" stroke-width="1.9" stroke-linejoin="round" />
<polyline points="70.6,232.6 84.6,232.6 98.6,232.6 112.6,232.6 126.6,243 140.6,246.8 154.6,246.8 168.6,246.8 182.6,243.6 196.6,232.6 210.6,232.6 224.6,232.6 238.6,232.6" fill="none" stroke="#000" stroke-width="1.9" stroke-linejoin="round" />
<line x1="70.6" y1="228.8" x2="70.6" y2="236.4" stroke="#000" stroke-width="1.3" />
<polygon points="67.5,234.67 73.7,234.67 70.6,228.47" fill="#000"/>
<polygon points="67.5,230.53 73.7,230.53 70.6,236.73" fill="#000"/>
<line x1="84.6" y1="228.8" x2="84.6" y2="236.4" stroke="#000" stroke-width="1.3" />
<polygon points="81.5,234.67 87.7,234.67 84.6,228.47" fill="#000"/>
<polygon points="81.5,230.53 87.7,230.53 84.6,236.73" fill="#000"/>
<line x1="98.6" y1="228.8" x2="98.6" y2="236.4" stroke="#000" stroke-width="1.3" />
<polygon points="95.5,234.67 101.7,234.67 98.6,228.47" fill="#000"/>
<polygon points="95.5,230.53 101.7,230.53 98.6,236.73" fill="#000"/>
<line x1="112.6" y1="228.8" x2="112.6" y2="236.4" stroke="#000" stroke-width="1.3" />
<polygon points="109.5,234.67 115.7,234.67 112.6,228.47" fill="#000"/>
<polygon points="109.5,230.53 115.7,230.53 112.6,236.73" fill="#000"/>
<line x1="126.6" y1="232.8" x2="126.6" y2="251" stroke="#000" stroke-width="1.3" />
<line x1="124.3" y1="232.8" x2="128.9" y2="232.8" stroke="#000" stroke-width="1.5" />
<line x1="124.3" y1="251" x2="128.9" y2="251" stroke="#000" stroke-width="1.5" />
<line x1="124.3" y1="237" x2="128.9" y2="237" stroke="#000" stroke-width="1.4" />
<polygon points="123.5,242.17 129.7,242.17 126.6,235.97" fill="#000"/>
<polygon points="123.5,240.93 129.7,240.93 126.6,247.13" fill="#000"/>
<line x1="140.6" y1="232.8" x2="140.6" y2="261.3" stroke="#000" stroke-width="1.3" />
<line x1="138.3" y1="232.8" x2="142.9" y2="232.8" stroke="#000" stroke-width="1.5" />
<line x1="138.3" y1="261.3" x2="142.9" y2="261.3" stroke="#000" stroke-width="1.5" />
<line x1="138.3" y1="252.8" x2="142.9" y2="252.8" stroke="#000" stroke-width="1.4" />
<polygon points="137.5,245.77 143.7,245.77 140.6,239.57" fill="#000"/>
<polygon points="137.5,244.73 143.7,244.73 140.6,250.93" fill="#000"/>
<line x1="154.6" y1="232.8" x2="154.6" y2="261.3" stroke="#000" stroke-width="1.3" />
<line x1="152.3" y1="232.8" x2="156.9" y2="232.8" stroke="#000" stroke-width="1.5" />
<line x1="152.3" y1="261.3" x2="156.9" y2="261.3" stroke="#000" stroke-width="1.5" />
<line x1="152.3" y1="252.8" x2="156.9" y2="252.8" stroke="#000" stroke-width="1.4" />
<polygon points="151.5,245.77 157.7,245.77 154.6,239.57" fill="#000"/>
<polygon points="151.5,244.73 157.7,244.73 154.6,250.93" fill="#000"/>
<line x1="168.6" y1="232.4" x2="168.6" y2="261.8" stroke="#000" stroke-width="1.3" />
<line x1="166.3" y1="232.4" x2="170.9" y2="232.4" stroke="#000" stroke-width="1.5" />
<line x1="166.3" y1="261.8" x2="170.9" y2="261.8" stroke="#000" stroke-width="1.5" />
<line x1="166.3" y1="252.8" x2="170.9" y2="252.8" stroke="#000" stroke-width="1.4" />
<polygon points="165.5,245.77 171.7,245.77 168.6,239.57" fill="#000"/>
<polygon points="165.5,244.73 171.7,244.73 168.6,250.93" fill="#000"/>
<line x1="182.6" y1="233.8" x2="182.6" y2="255.4" stroke="#000" stroke-width="1.3" />
<line x1="180.3" y1="233.8" x2="184.9" y2="233.8" stroke="#000" stroke-width="1.5" />
<line x1="180.3" y1="255.4" x2="184.9" y2="255.4" stroke="#000" stroke-width="1.5" />
<line x1="180.3" y1="237.5" x2="184.9" y2="237.5" stroke="#000" stroke-width="1.4" />
<polygon points="179.5,242.67 185.7,242.67 182.6,236.47" fill="#000"/>
<polygon points="179.5,241.53 185.7,241.53 182.6,247.73" fill="#000"/>
<line x1="196.6" y1="228.8" x2="196.6" y2="236.4" stroke="#000" stroke-width="1.3" />
<polygon points="193.5,234.67 199.7,234.67 196.6,228.47" fill="#000"/>
<polygon points="193.5,230.53 199.7,230.53 196.6,236.73" fill="#000"/>
<line x1="210.6" y1="228.8" x2="210.6" y2="236.4" stroke="#000" stroke-width="1.3" />
<polygon points="207.5,234.67 213.7,234.67 210.6,228.47" fill="#000"/>
<polygon points="207.5,230.53 213.7,230.53 210.6,236.73" fill="#000"/>
<line x1="224.6" y1="228.8" x2="224.6" y2="236.4" stroke="#000" stroke-width="1.3" />
<polygon points="221.5,234.67 227.7,234.67 224.6,228.47" fill="#000"/>
<polygon points="221.5,230.53 227.7,230.53 224.6,236.73" fill="#000"/>
<line x1="238.6" y1="228.8" x2="238.6" y2="236.4" stroke="#000" stroke-width="1.3" />
<polygon points="235.5,234.67 241.7,234.67 238.6,228.47" fill="#000"/>
<polygon points="235.5,230.53 241.7,230.53 238.6,236.73" fill="#000"/>
<text x="68" y="187.8" font-size="12.6" text-anchor="start" fill="#1e1e1e" font-family='"Liberation Sans", sans-serif' >F</text>
<line x1="63.8" y1="11.4" x2="63.8" y2="264.2" stroke="#262626" stroke-width="1.1" />
<line x1="63.8" y1="11.4" x2="248.5" y2="11.4" stroke="#262626" stroke-width="1.15" />
<line x1="63.8" y1="64.4" x2="248.5" y2="64.4" stroke="#262626" stroke-width="1.15" />
<line x1="63.8" y1="170.4" x2="248.5" y2="170.4" stroke="#262626" stroke-width="1.15" />
<line x1="63.8" y1="264.2" x2="248.5" y2="264.2" stroke="#262626" stroke-width="1.15" />
<line x1="63.8" y1="116.8" x2="248.5" y2="116.8" stroke="#3a3a3a" stroke-width="1.6" />
<line x1="241.7" y1="17.0" x2="72" y2="56.6" stroke="#fdb80a" stroke-width="3.4"/>
<polygon points="66.3,57.9 76.4,51.4 75.4,59.2" fill="#fdb80a"/>
<circle cx="224.6" cy="15" r="3.8" fill="#ff0000"/>
<circle cx="238.6" cy="15" r="3.8" fill="#ff0000"/>
<text x="60" y="14.15" font-size="11.8" text-anchor="end" fill="#1e1e1e" font-family='"Liberation Sans", sans-serif' >2.869965</text>
<text x="60" y="36.45" font-size="11.8" text-anchor="end" fill="#1e1e1e" font-family='"Liberation Sans", sans-serif' >2.869960</text>
<text x="60" y="58.45" font-size="11.8" text-anchor="end" fill="#1e1e1e" font-family='"Liberation Sans", sans-serif' >2.869955</text>
<text x="60" y="71.25" font-size="11.8" text-anchor="end" fill="#1e1e1e" font-family='"Liberation Sans", sans-serif' >1.5636</text>
<text x="60" y="93.75" font-size="11.8" text-anchor="end" fill="#1e1e1e" font-family='"Liberation Sans", sans-serif' >1.5633</text>
<text x="60" y="116.05" font-size="11.8" text-anchor="end" fill="#1e1e1e" font-family='"Liberation Sans", sans-serif' >1.5630</text>
<text x="60" y="135.15" font-size="11.8" text-anchor="end" fill="#1e1e1e" font-family='"Liberation Sans", sans-serif' >1.3068</text>
<text x="60" y="158.35" font-size="11.8" text-anchor="end" fill="#1e1e1e" font-family='"Liberation Sans", sans-serif' >1.3065</text>
<text x="60" y="191.85" font-size="11.8" text-anchor="end" fill="#1e1e1e" font-family='"Liberation Sans", sans-serif' >0.582</text>
<text x="60" y="229.25" font-size="11.8" text-anchor="end" fill="#1e1e1e" font-family='"Liberation Sans", sans-serif' >0.576</text>
<text x="60" y="267.05" font-size="11.8" text-anchor="end" fill="#1e1e1e" font-family='"Liberation Sans", sans-serif' >0.570</text>
<text x="63.7" y="277.2" font-size="11.7" text-anchor="middle" fill="#1e1e1e" font-family='"Liberation Sans", sans-serif' >0</text>
<text x="119.8" y="277.2" font-size="11.7" text-anchor="middle" fill="#1e1e1e" font-family='"Liberation Sans", sans-serif' >40,000</text>
<text x="175.3" y="277.2" font-size="11.7" text-anchor="middle" fill="#1e1e1e" font-family='"Liberation Sans", sans-serif' >80,000</text>
<text x="231.3" y="277.2" font-size="11.7" text-anchor="middle" fill="#1e1e1e" font-family='"Liberation Sans", sans-serif' >120,000</text>
<text x="126" y="292" font-size="12.4" text-anchor="start" fill="#1e1e1e" font-family='"Liberation Sans", sans-serif' textLength="59.5" lengthAdjust="spacingAndGlyphs" ><tspan font-style="italic">t</tspan> (sweeps)</text>
<text transform="translate(14.5,92.4) rotate(-90)" font-size="12.4" text-anchor="middle" fill="#1e1e1e" font-family='"Liberation Sans", sans-serif'><tspan font-style="italic">S</tspan>/(<tspan font-style="italic">Nk</tspan>)</text>
<text transform="translate(17.9,221.8) rotate(-90)" font-size="12.6" text-anchor="middle" fill="#1e1e1e" font-family='"Liberation Sans", sans-serif'>ln(<tspan font-style="italic">p</tspan><tspan font-size="7.2" dy="4.0">i</tspan><tspan dy="-4.0"> / </tspan><tspan font-style="italic">p</tspan><tspan font-size="7.2" dy="4.0">i+1</tspan><tspan dy="-4.0">)</tspan></text>
<line x1="272.85" y1="11.5" x2="272.85" y2="13.3" stroke="#262626" stroke-width="0.9" />
<line x1="272.85" y1="197.8" x2="272.85" y2="196" stroke="#262626" stroke-width="0.9" />
<line x1="297.4" y1="11.5" x2="297.4" y2="14.7" stroke="#262626" stroke-width="0.9" />
<line x1="297.4" y1="197.8" x2="297.4" y2="194.6" stroke="#262626" stroke-width="0.9" />
<line x1="321.95" y1="11.5" x2="321.95" y2="13.3" stroke="#262626" stroke-width="0.9" />
<line x1="321.95" y1="197.8" x2="321.95" y2="196" stroke="#262626" stroke-width="0.9" />
<line x1="346.5" y1="11.5" x2="346.5" y2="14.7" stroke="#262626" stroke-width="0.9" />
<line x1="346.5" y1="197.8" x2="346.5" y2="194.6" stroke="#262626" stroke-width="0.9" />
<line x1="393.6" y1="11.5" x2="393.6" y2="14.7" stroke="#262626" stroke-width="0.9" />
<line x1="393.6" y1="197.8" x2="393.6" y2="194.6" stroke="#262626" stroke-width="0.9" />
<line x1="416.35" y1="11.5" x2="416.35" y2="13.3" stroke="#262626" stroke-width="0.9" />
<line x1="416.35" y1="197.8" x2="416.35" y2="196" stroke="#262626" stroke-width="0.9" />
<line x1="439.1" y1="11.5" x2="439.1" y2="14.7" stroke="#262626" stroke-width="0.9" />
<line x1="439.1" y1="197.8" x2="439.1" y2="194.6" stroke="#262626" stroke-width="0.9" />
<line x1="461.85" y1="11.5" x2="461.85" y2="13.3" stroke="#262626" stroke-width="0.9" />
<line x1="461.85" y1="197.8" x2="461.85" y2="196" stroke="#262626" stroke-width="0.9" />
<line x1="484.6" y1="11.5" x2="484.6" y2="14.7" stroke="#262626" stroke-width="0.9" />
<line x1="484.6" y1="197.8" x2="484.6" y2="194.6" stroke="#262626" stroke-width="0.9" />
<line x1="371.7" y1="197.8" x2="371.7" y2="193.3" stroke="#000" stroke-width="1.3" />
<line x1="248.5" y1="58.1" x2="250.7" y2="58.1" stroke="#262626" stroke-width="0.9" />
<line x1="493.4" y1="58.1" x2="491.2" y2="58.1" stroke="#262626" stroke-width="0.9" />
<line x1="248.5" y1="104.8" x2="251.9" y2="104.8" stroke="#262626" stroke-width="0.9" />
<line x1="493.4" y1="104.8" x2="490" y2="104.8" stroke="#262626" stroke-width="0.9" />
<line x1="248.5" y1="151.4" x2="250.7" y2="151.4" stroke="#262626" stroke-width="0.9" />
<line x1="493.4" y1="151.4" x2="491.2" y2="151.4" stroke="#262626" stroke-width="0.9" />
<polyline points="253.21,185.5 258.12,25 263.03,67.6 267.94,20.8 272.85,44.3 277.76,17.7 282.67,33.5 287.58,16.7 292.49,27.8 297.4,16 302.31,23.1 307.22,16 312.13,20.9 317.04,15.8 321.95,19.1 326.86,15.8 331.77,18.1 336.68,15.7 341.59,17.4 346.5,15.7 351.41,16.9 356.32,15.6 361.23,16.6 366.14,15.6 371.05,16.3 371.7,15.8 375.4,15.6 379.95,16.2 384.5,15.6 389.05,16.5 393.6,15.6 398.15,16.6 402.7,15.7 407.25,17.3 411.8,15.7 416.35,18.4 420.9,15.8 425.45,18.9 430,15.8 434.55,20.9 439.1,15.7 443.65,22.6 448.2,16.4 452.75,27.3 457.3,16.3 461.85,33.2 466.4,17.9 470.95,45.4 475.5,21 480.05,67.2 484.6,24.8 488.6,185.2" fill="none" stroke="#000" stroke-width="1.9" stroke-linejoin="round" />
<line x1="251.21" y1="185.5" x2="255.21" y2="185.5" stroke="#000" stroke-width="1.3" />
<line x1="256.12" y1="25" x2="260.12" y2="25" stroke="#000" stroke-width="1.3" />
<line x1="261.03" y1="67.6" x2="265.03" y2="67.6" stroke="#000" stroke-width="1.3" />
<line x1="265.94" y1="20.8" x2="269.94" y2="20.8" stroke="#000" stroke-width="1.3" />
<line x1="270.85" y1="44.3" x2="274.85" y2="44.3" stroke="#000" stroke-width="1.3" />
<line x1="275.76" y1="17.7" x2="279.76" y2="17.7" stroke="#000" stroke-width="1.3" />
<line x1="280.67" y1="33.5" x2="284.67" y2="33.5" stroke="#000" stroke-width="1.3" />
<line x1="290.49" y1="27.8" x2="294.49" y2="27.8" stroke="#000" stroke-width="1.3" />
<line x1="300.31" y1="23.1" x2="304.31" y2="23.1" stroke="#000" stroke-width="1.3" />
<line x1="310.13" y1="20.9" x2="314.13" y2="20.9" stroke="#000" stroke-width="1.3" />
<line x1="319.95" y1="19.1" x2="323.95" y2="19.1" stroke="#000" stroke-width="1.3" />
<line x1="329.77" y1="18.1" x2="333.77" y2="18.1" stroke="#000" stroke-width="1.3" />
<line x1="414.35" y1="18.4" x2="418.35" y2="18.4" stroke="#000" stroke-width="1.3" />
<line x1="423.45" y1="18.9" x2="427.45" y2="18.9" stroke="#000" stroke-width="1.3" />
<line x1="432.55" y1="20.9" x2="436.55" y2="20.9" stroke="#000" stroke-width="1.3" />
<line x1="441.65" y1="22.6" x2="445.65" y2="22.6" stroke="#000" stroke-width="1.3" />
<line x1="450.75" y1="27.3" x2="454.75" y2="27.3" stroke="#000" stroke-width="1.3" />
<line x1="459.85" y1="33.2" x2="463.85" y2="33.2" stroke="#000" stroke-width="1.3" />
<line x1="464.4" y1="17.9" x2="468.4" y2="17.9" stroke="#000" stroke-width="1.3" />
<line x1="468.95" y1="45.4" x2="472.95" y2="45.4" stroke="#000" stroke-width="1.3" />
<line x1="473.5" y1="21" x2="477.5" y2="21" stroke="#000" stroke-width="1.3" />
<line x1="478.05" y1="67.2" x2="482.05" y2="67.2" stroke="#000" stroke-width="1.3" />
<line x1="482.6" y1="24.8" x2="486.6" y2="24.8" stroke="#000" stroke-width="1.3" />
<line x1="486.6" y1="185.2" x2="490.6" y2="185.2" stroke="#000" stroke-width="1.3" />
<line x1="253.3" y1="183" x2="253.3" y2="188" stroke="#000" stroke-width="1.2" />
<line x1="251.1" y1="183.2" x2="255.5" y2="183.2" stroke="#000" stroke-width="1.1" />
<line x1="251.1" y1="187.6" x2="255.5" y2="187.6" stroke="#000" stroke-width="1.1" />
<line x1="488.6" y1="183" x2="488.6" y2="188" stroke="#000" stroke-width="1.2" />
<line x1="486.4" y1="183.2" x2="490.8" y2="183.2" stroke="#000" stroke-width="1.1" />
<line x1="486.4" y1="187.6" x2="490.8" y2="187.6" stroke="#000" stroke-width="1.1" />
<polyline points="253.21,52 258.12,36.5 263.03,25.6 267.94,20.6 272.85,17.5 277.76,16 282.67,15.5 287.58,15.2 292.49,15 297.4,14.9 489.8,14.8" fill="none" stroke="#ff0000" stroke-width="1.9" stroke-linejoin="round" />
<line x1="250.2" y1="14.6" x2="251.8" y2="14.6" stroke="#ff0000" stroke-width="1.4" />
<line x1="251.41" y1="52" x2="255.01" y2="52" stroke="#ff0000" stroke-width="1.2" />
<line x1="256.32" y1="36.5" x2="259.92" y2="36.5" stroke="#ff0000" stroke-width="1.2" />
<line x1="261.23" y1="25.6" x2="264.83" y2="25.6" stroke="#ff0000" stroke-width="1.2" />
<line x1="266.14" y1="20.6" x2="269.74" y2="20.6" stroke="#ff0000" stroke-width="1.2" />
<line x1="252" y1="51" x2="256" y2="51" stroke="#ff0000" stroke-width="1.1" />
<line x1="251.8" y1="53.6" x2="255.6" y2="53.6" stroke="#ff0000" stroke-width="1.1" />
<line x1="484.4" y1="12" x2="484.4" y2="17.4" stroke="#ff0000" stroke-width="1.2" />
<line x1="482.4" y1="12" x2="486.4" y2="12" stroke="#ff0000" stroke-width="1.1" />
<line x1="482.4" y1="17.4" x2="486.4" y2="17.4" stroke="#ff0000" stroke-width="1.1" />
<line x1="371.7" y1="11.5" x2="371.7" y2="88.5" stroke="#000" stroke-width="1.3" />
<line x1="490.8" y1="14.7" x2="493.4" y2="14.7" stroke="#222" stroke-width="1.1" />
<line x1="369.4" y1="58.2" x2="374.1" y2="58.2" stroke="#000" stroke-width="1.4" />
<text x="341" y="35.2" font-size="12.2" text-anchor="start" fill="#1e1e1e" font-family='"Liberation Sans", sans-serif' textLength="8.2" lengthAdjust="spacingAndGlyphs" >D</text>
<text x="390.9" y="35.2" font-size="12.2" text-anchor="start" fill="#1e1e1e" font-family='"Liberation Sans", sans-serif' textLength="7.1" lengthAdjust="spacingAndGlyphs" >E</text>
<text x="329.3" y="100.3" font-size="11.6" fill="#1e1e1e" font-family='"Liberation Sans", sans-serif' textLength="16.6" lengthAdjust="spacingAndGlyphs">log(</text>
<text x="347.6" y="100.3" font-size="12.0" fill="#3a3a3a" style="stroke:#3a3a3a;stroke-width:0.15px" font-family='"Liberation Serif", serif' font-style="italic">f</text>
<text x="355.5" y="100.3" font-size="11.0" fill="#3a3a3a" style="stroke:#3a3a3a;stroke-width:0.15px" font-family='"Liberation Serif", serif' font-style="italic">/</text>
<text x="360.4" y="100.3" font-size="12.0" fill="#3a3a3a" style="stroke:#3a3a3a;stroke-width:0.15px" font-family='"Liberation Serif", serif' font-style="italic">f</text>
<text x="365.3" y="104.8" font-size="6.2" fill="#3a3a3a" style="stroke:none" font-family='"Liberation Sans", sans-serif'>0</text>
<text x="372.1" y="100.3" font-size="11.6" fill="#1e1e1e" font-family='"Liberation Sans", sans-serif'>)</text>
<line x1="285.48" y1="124.6" x2="285.48" y2="126.9" stroke="#262626" stroke-width="0.9" />
<line x1="285.48" y1="188.2" x2="285.48" y2="185.9" stroke="#262626" stroke-width="0.9" />
<line x1="307.65" y1="124.6" x2="307.65" y2="126.9" stroke="#262626" stroke-width="0.9" />
<line x1="307.65" y1="188.2" x2="307.65" y2="185.9" stroke="#262626" stroke-width="0.9" />
<line x1="329.83" y1="124.6" x2="329.83" y2="126.9" stroke="#262626" stroke-width="0.9" />
<line x1="329.83" y1="188.2" x2="329.83" y2="185.9" stroke="#262626" stroke-width="0.9" />
<line x1="352" y1="124.6" x2="352" y2="126.9" stroke="#262626" stroke-width="0.9" />
<line x1="352" y1="188.2" x2="352" y2="185.9" stroke="#262626" stroke-width="0.9" />
<line x1="374.18" y1="124.6" x2="374.18" y2="126.9" stroke="#262626" stroke-width="0.9" />
<line x1="374.18" y1="188.2" x2="374.18" y2="185.9" stroke="#262626" stroke-width="0.9" />
<line x1="396.35" y1="124.6" x2="396.35" y2="126.9" stroke="#262626" stroke-width="0.9" />
<line x1="396.35" y1="188.2" x2="396.35" y2="185.9" stroke="#262626" stroke-width="0.9" />
<line x1="418.52" y1="124.6" x2="418.52" y2="126.9" stroke="#262626" stroke-width="0.9" />
<line x1="418.52" y1="188.2" x2="418.52" y2="185.9" stroke="#262626" stroke-width="0.9" />
<line x1="263.3" y1="142.7" x2="265.6" y2="142.7" stroke="#262626" stroke-width="0.9" />
<line x1="440.7" y1="142.7" x2="438.4" y2="142.7" stroke="#262626" stroke-width="0.9" />
<line x1="263.3" y1="161.7" x2="265.6" y2="161.7" stroke="#262626" stroke-width="0.9" />
<line x1="440.7" y1="161.7" x2="438.4" y2="161.7" stroke="#262626" stroke-width="0.9" />
<line x1="263.3" y1="180.5" x2="265.6" y2="180.5" stroke="#262626" stroke-width="0.9" />
<line x1="440.7" y1="180.5" x2="438.4" y2="180.5" stroke="#262626" stroke-width="0.9" />
<polyline points="263.3,151.2 264.15,150.93 265,149.79 266,147.73 267,146.49 267.75,145.44 268.5,144.67 269.6,144.17 270.7,142.75 271.85,143.18 273,144.57 274,144.33 275,144.89 276,143.95 277,144.34 278,144.54 279,144.15 280,145.09 281,144.87 282,143.75 283,143.58 284,144.25 285,144.78 286,144.34 287,144.32 288,144.71 289,144.38 290,144.69 291,144.87 292,144.86 293,144.51 294,144.7 295,144.89 296,145.36 297,145.37 298,145.27 299,146.27 300,146.06 301,146.42 302,146.19 303,147.34 304,147.4 305,146.78 306,147.15 307,147.71 308,147.83 309,148.28 310,147.91 311,148.42 312,148.31 313,147.96 314,148.34 315,148.72 316,148.72 317,148.39 318,148.52 319,147.95 320,148.22 321,148.79 322,148.33 323,148.02 324,148.39 325,148.52 326,148.39 327,147.96 328,147.93 329,147.91 330,148.11 331,147.78 332,147.6 333,147.67 334,147.12 335,147.1 336,147.86 337,148.21 338,147.82 339,147.64 340,147.44 341,147.78 342,148.29 343,148.04 344,147.76 345,148.1 346,147.43 347,147.71 348,148.1 349,147.76 350,147.67 351,147.65 352,147.93 353,148.23 354,147.88 355,148.3 356,148.41 357,148.52 358,148.6 359,148.7 360,148.8 361,148.92 362,149.04 363,149.16 364,149.28 365,149.4 366,149.52 367,149.64 368,149.76 369,149.88 370,150 371,150.16 372,150.32 373,150.48 374,150.64 375,150.8 376,150.96 377,151.12 378,151.28 379,151.44 380,151.6 381,151.8 382,152 383,152.2 384,152.4 385,152.6 386,152.8 387,153 388,153.2 389,153.4 390,153.6 391,153.86 392,154.12 393,154.38 394,154.64 395,154.9 396,155.2 397,155.5 398,155.8 399,156.1 400,156.4 401,156.72 402,157.04 403,157.36 404,157.68 405,158 406,158.32 407,158.64 408,158.96 409,159.28 410,159.6 411,159.94 412,160.28 413,160.62 414,160.96 415,161.3 416,161.62 417,161.94 418,162.26 419,162.58 420,162.9 421,163.22 422,163.54 423,163.86 424,164.18 425,164.5 426,164.8 427,165.1 428,165.4 429,165.7 430,166 431,166.27 432,166.53 433,166.8" fill="none" stroke="#ff0000" stroke-width="1.7" stroke-linejoin="round" />
<polyline points="263.3,152.1 264.15,153.04 265,153.01 265.93,153.71 266.87,155.2 267.8,155.76 268.9,156.04 270,155.99 271,156.47 272,156.62 273,156.36 274,155.66 275,155.72 276,155.58 277,155.85 278,156.34 279,156.49 280,156.25 281,156.04 282,155.75 283,154.89 284,154.28 285,154.26 286,153.6 287,153.37 288,153.63 289,152.73 290,152.27 291,151.51 292,150.88 293,150.81 294,150.1 295,150.01 296,150.08 297,149.26 298,148.25 299,148.73 300,148.33 301,148.06 302,148.05 303,147.69 304,147.57 305,146.94 306,147.66 307,147.67 308,146.83 309,147.58 310,147.64 311,147.48 312,147.67 313,147.75 314,148.35 315,148 316,148.44 317,148 318,148.66 319,148.76 320,148.36 321,148.43 322,148.78 323,148.53 324,148.23 325,147.89 326,147.91 327,148.22 328,147.53 329,148.25 330,147.44 331,148.11 332,147.41 333,148.08 334,147.77 335,147.5 336,147.54 337,147.71 338,147.66 339,147.37 340,147.28 341,147.61 342,148.08 343,147.74 344,147.13 345,147.95 346,147.87 347,148.07 348,147.45 349,147.96 350,147.48 351,148.02 352,147.91 353,148.02 354,148.45 355,148.26 356,148.57 357,148.8 358,148.84 359,149.02 360,149.2 361,149.36 362,149.52 363,149.68 364,149.84 365,150 366,150.16 367,150.32 368,150.48 369,150.64 370,150.8 371,151 372,151.2 373,151.4 374,151.6 375,151.8 376,152 377,152.2 378,152.4 379,152.6 380,152.8 381,153.04 382,153.28 383,153.52 384,153.76 385,154 386,154.24 387,154.48 388,154.72 389,154.96 390,155.2 391,155.46 392,155.72 393,155.98 394,156.24 395,156.5 396,156.8 397,157.1 398,157.4 399,157.7 400,158 401,158.3 402,158.6 403,158.9 404,159.2 405,159.5 406,159.8 407,160.1 408,160.4 409,160.7 410,161 411,161.28 412,161.56 413,161.84 414,162.12 415,162.4 416,162.68 417,162.96 418,163.24 419,163.52 420,163.8 421,164.04 422,164.28 423,164.52 424,164.76 425,165 426,165.24 427,165.48 428,165.72 429,165.96 430,166.2 431,166.4 432,166.6 433,166.8" fill="none" stroke="#ff0000" stroke-width="1.7" stroke-linejoin="round" />
<polyline points="263.3,138.26 264.5,136.64 265.25,135.43 266,134.59 267.4,133.71 268.5,135.11 269.5,138.56 270.5,140.05 271.5,140.28 272.6,140.81 273.7,142.05 274.85,142.52 276,143.8 276.93,143.98 277.87,144.63 278.8,144.69 279.9,146.12 281,147.33 281.93,147.72 282.87,148.62 283.8,149.25 284.9,149.41 286,150.73 286.93,151.25 287.87,151.65 288.8,152.08 289.9,153.83 291,154.48 291.93,155.43 292.87,156.31 293.8,156.89 294.9,157.88 296,158.21 296.97,159.14 297.93,159.38 298.9,160.39 299.95,161.09 301,161.14 301.97,161.51 302.93,161.91 303.9,162.92 304.95,162.84 306,163.41 306.97,163.42 307.93,163.91 308.9,164.1 309.95,164.37 311,164.88 312,164.94 313,165.3 314,165.16 315.1,165.89 316.2,166.32 317.3,166.94 318.2,166.55 319.1,166 320,166.52 321,166.58 322,166.48 323,166.14 324,166.23 325,165.74 326,166.2 327,165.87 328,165.51 329,165.21 330,165.82 331,165.84 332,164.93 333,165.47 334,165.02 335,164.69 336,164.97 337,165.56 338,165.82 339,165.23 340,165.9 341,165.54 342,166.21 343,166.04 344,166.53 345,166.69 346,166.52 347,166.88 348,166.68 349,166.73 350,167.03 351,166.99 352,167.15 353,167.29 354,167.41 355,167.5 356,167.6 357,167.7 358,167.8 359,167.9 360,168 361,168.1 362,168.2 363,168.3 364,168.4 365,168.5 366,169 367,169.5 368,170 369,170.5 370,171 371,171.5 372,172 373,172.5 374,173 375,173.5 376,174 377,174.5 378,175 379,175.5 380,176 381,176.2 382,176.4 383,176.6 384,176.8 385,177 386,177.12 387,177.24 388,177.36 389,177.48 390,177.6 391,177.52 392,177.44 393,177.36 394,177.28 395,177.2 396,177.06 397,176.92 398,176.78 399,176.64 400,176.5 401,176.4 402,176.3 403,176.2 404,176.1 405,176 406,175.9 407,175.8 408,175.7 409,175.6 410,175.5 411,175.44 412,175.38 413,175.32 414,175.26 415,175.2 416,175.16 417,175.12 418,175.08 419,175.04 420,175 421,174.8 422,174.6 423,174.4 424,173.93 425,173.47 426,173 427,172.17 428,171.33 429,170.5 430,169.45 431,168.4 432,167.6 433,166.8" fill="none" stroke="#000" stroke-width="1.9" stroke-linejoin="round" />
<rect x="263.3" y="124.6" width="177.4" height="63.6" fill="none" stroke="#262626" stroke-width="1.1"/>
<text x="263.3" y="117.9" font-size="10.6" text-anchor="middle" fill="#1e1e1e" font-family='"Liberation Sans", sans-serif' >1</text>
<text x="307.65" y="117.9" font-size="10.6" text-anchor="middle" fill="#1e1e1e" font-family='"Liberation Sans", sans-serif' >2</text>
<text x="352" y="117.9" font-size="10.6" text-anchor="middle" fill="#1e1e1e" font-family='"Liberation Sans", sans-serif' >3</text>
<text x="396.35" y="117.9" font-size="10.6" text-anchor="middle" fill="#1e1e1e" font-family='"Liberation Sans", sans-serif' >4</text>
<text x="440.7" y="117.9" font-size="10.6" text-anchor="middle" fill="#1e1e1e" font-family='"Liberation Sans", sans-serif' >5</text>
<text x="444.3" y="146.7" font-size="10.8" text-anchor="start" fill="#1e1e1e" font-family='"Liberation Sans", sans-serif' >-120</text>
<text x="444.3" y="183.5" font-size="10.8" text-anchor="start" fill="#1e1e1e" font-family='"Liberation Sans", sans-serif' >-130</text>
<text transform="translate(480.4,156.2) rotate(-90)" font-size="11.4" text-anchor="middle" fill="#1e1e1e" font-family='"Liberation Sans", sans-serif'><tspan font-style="italic">PSD</tspan>(dB)</text>
<rect x="248.5" y="11.5" width="244.9" height="186.3" fill="none" stroke="#262626" stroke-width="1.1"/>
<text x="496.8" y="14.8" font-size="11.0" text-anchor="start" fill="#1e1e1e" font-family='"Liberation Sans", sans-serif' >2.870</text>
<text x="496.8" y="108.4" font-size="11.0" text-anchor="start" fill="#1e1e1e" font-family='"Liberation Sans", sans-serif' >2.869</text>
<text x="496.8" y="201.2" font-size="11.0" text-anchor="start" fill="#1e1e1e" font-family='"Liberation Sans", sans-serif' >2.868</text>
<text transform="translate(543.4,106.4) rotate(-90)" font-size="11.8" text-anchor="middle" fill="#1e1e1e" font-family='"Liberation Sans", sans-serif'><tspan font-style="italic">S</tspan>/(<tspan font-style="italic">Nk</tspan>)</text>
<text x="297.5" y="211" font-size="11.0" text-anchor="middle" fill="#1e1e1e" font-family='"Liberation Sans", sans-serif' >10</text>
<text x="346.5" y="211" font-size="11.0" text-anchor="middle" fill="#1e1e1e" font-family='"Liberation Sans", sans-serif' >20</text>
<text x="393.8" y="211" font-size="11.0" text-anchor="middle" fill="#1e1e1e" font-family='"Liberation Sans", sans-serif' >131,050</text>
<text x="438.6" y="211" font-size="11.0" text-anchor="middle" fill="#1e1e1e" font-family='"Liberation Sans", sans-serif' >131,060</text>
<text x="484.2" y="211" font-size="11.0" text-anchor="middle" fill="#1e1e1e" font-family='"Liberation Sans", sans-serif' >131,070</text>
<text x="342.4" y="225.9" font-size="11.6" text-anchor="start" fill="#1e1e1e" font-family='"Liberation Sans", sans-serif' textLength="57.8" lengthAdjust="spacingAndGlyphs" ><tspan font-style="italic">t</tspan> (sweeps)</text>
</svg>
</body></html>
